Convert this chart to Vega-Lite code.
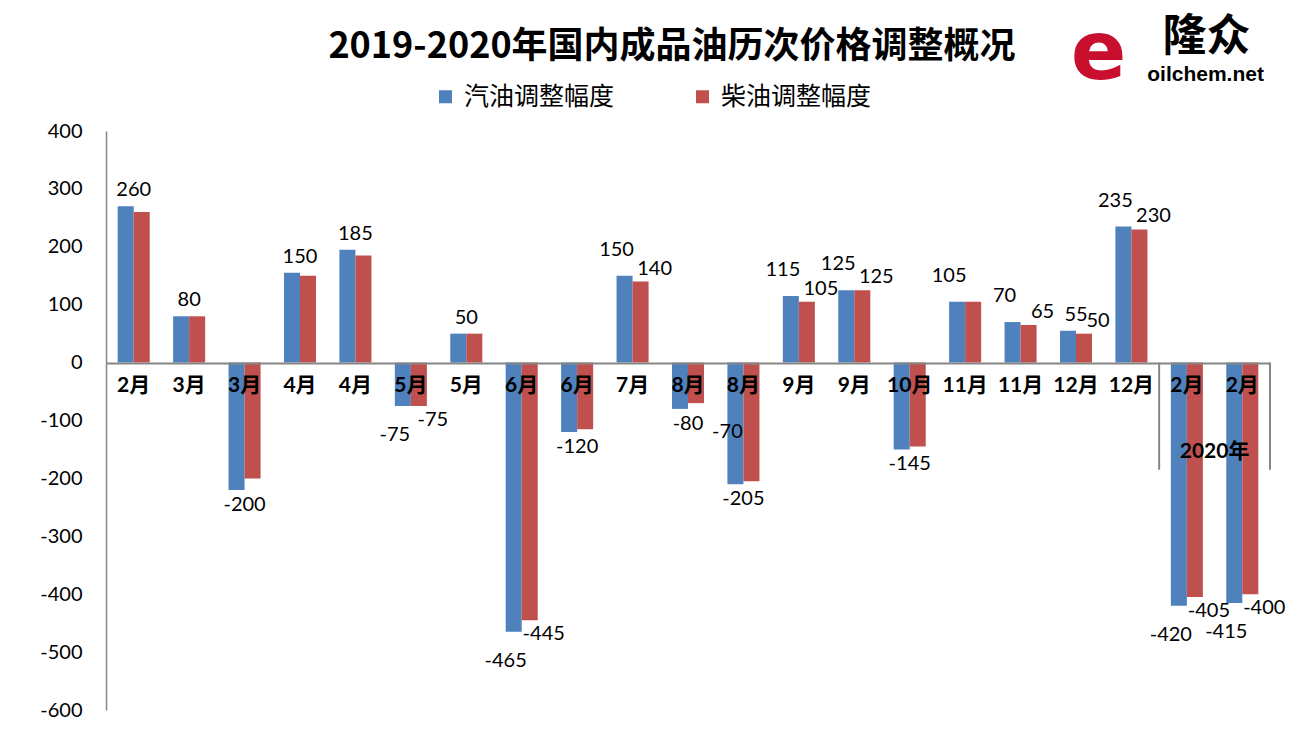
{
  "$schema": "https://vega.github.io/schema/vega-lite/v6.json",
  "width": 1164,
  "height": 579,
  "autosize": {"type": "none"},
  "padding": {"left": 106, "top": 131, "right": 37, "bottom": 21},
  "background": "white",
  "config": {"view": {"stroke": null}, "font": "Lato, Noto Sans CJK SC"},
  "title": {
    "text": "2019-2020年国内成品油历次价格调整概况",
    "font": "Noto Sans CJK SC",
    "fontSize": 36,
    "fontWeight": "bold",
    "color": "black",
    "anchor": "middle",
    "dx": -16,
    "offset": -53
  },
  "datasets": {
    "bars": [
      {"cat": "01", "s": "汽油调整幅度", "v": 270}, {"cat": "01", "s": "柴油调整幅度", "v": 260},
      {"cat": "02", "s": "汽油调整幅度", "v": 80}, {"cat": "02", "s": "柴油调整幅度", "v": 80},
      {"cat": "03", "s": "汽油调整幅度", "v": -220}, {"cat": "03", "s": "柴油调整幅度", "v": -200},
      {"cat": "04", "s": "汽油调整幅度", "v": 155}, {"cat": "04", "s": "柴油调整幅度", "v": 150},
      {"cat": "05", "s": "汽油调整幅度", "v": 195}, {"cat": "05", "s": "柴油调整幅度", "v": 185},
      {"cat": "06", "s": "汽油调整幅度", "v": -75}, {"cat": "06", "s": "柴油调整幅度", "v": -75},
      {"cat": "07", "s": "汽油调整幅度", "v": 50}, {"cat": "07", "s": "柴油调整幅度", "v": 50},
      {"cat": "08", "s": "汽油调整幅度", "v": -465}, {"cat": "08", "s": "柴油调整幅度", "v": -445},
      {"cat": "09", "s": "汽油调整幅度", "v": -120}, {"cat": "09", "s": "柴油调整幅度", "v": -115},
      {"cat": "10", "s": "汽油调整幅度", "v": 150}, {"cat": "10", "s": "柴油调整幅度", "v": 140},
      {"cat": "11", "s": "汽油调整幅度", "v": -80}, {"cat": "11", "s": "柴油调整幅度", "v": -70},
      {"cat": "12", "s": "汽油调整幅度", "v": -210}, {"cat": "12", "s": "柴油调整幅度", "v": -205},
      {"cat": "13", "s": "汽油调整幅度", "v": 115}, {"cat": "13", "s": "柴油调整幅度", "v": 105},
      {"cat": "14", "s": "汽油调整幅度", "v": 125}, {"cat": "14", "s": "柴油调整幅度", "v": 125},
      {"cat": "15", "s": "汽油调整幅度", "v": -150}, {"cat": "15", "s": "柴油调整幅度", "v": -145},
      {"cat": "16", "s": "汽油调整幅度", "v": 105}, {"cat": "16", "s": "柴油调整幅度", "v": 105},
      {"cat": "17", "s": "汽油调整幅度", "v": 70}, {"cat": "17", "s": "柴油调整幅度", "v": 65},
      {"cat": "18", "s": "汽油调整幅度", "v": 55}, {"cat": "18", "s": "柴油调整幅度", "v": 50},
      {"cat": "19", "s": "汽油调整幅度", "v": 235}, {"cat": "19", "s": "柴油调整幅度", "v": 230},
      {"cat": "20", "s": "汽油调整幅度", "v": -420}, {"cat": "20", "s": "柴油调整幅度", "v": -405},
      {"cat": "21", "s": "汽油调整幅度", "v": -415}, {"cat": "21", "s": "柴油调整幅度", "v": -400}
    ],
    "labels": [
      {"cat": "01", "s": "中", "v": 270, "t": "260"},
      {"cat": "02", "s": "中", "v": 80, "t": "80"},
      {"cat": "03", "s": "中", "v": -220, "t": "-200"},
      {"cat": "04", "s": "中", "v": 155, "t": "150"},
      {"cat": "05", "s": "中", "v": 195, "t": "185"},
      {"cat": "06", "s": "汽油调整幅度", "v": -75, "t": "-75"},
      {"cat": "06", "s": "柴油调整幅度", "v": -75, "t": "-75"},
      {"cat": "07", "s": "中", "v": 50, "t": "50"},
      {"cat": "08", "s": "汽油调整幅度", "v": -465, "t": "-465"},
      {"cat": "08", "s": "柴油调整幅度", "v": -445, "t": "-445"},
      {"cat": "09", "s": "中", "v": -120, "t": "-120"},
      {"cat": "10", "s": "汽油调整幅度", "v": 150, "t": "150"},
      {"cat": "10", "s": "柴油调整幅度", "v": 140, "t": "140"},
      {"cat": "11", "s": "中", "v": -80, "t": "-80"},
      {"cat": "12", "s": "汽油调整幅度", "v": -70, "t": "-70"},
      {"cat": "12", "s": "中", "v": -210, "t": "-205"},
      {"cat": "13", "s": "汽油调整幅度", "v": 115, "t": "115"},
      {"cat": "13", "s": "柴油调整幅度", "v": 105, "t": "105"},
      {"cat": "14", "s": "汽油调整幅度", "v": 125, "t": "125"},
      {"cat": "14", "s": "柴油调整幅度", "v": 125, "t": "125"},
      {"cat": "15", "s": "中", "v": -150, "t": "-145"},
      {"cat": "16", "s": "汽油调整幅度", "v": 105, "t": "105"},
      {"cat": "17", "s": "汽油调整幅度", "v": 70, "t": "70"},
      {"cat": "17", "s": "柴油调整幅度", "v": 65, "t": "65"},
      {"cat": "18", "s": "中", "v": 55, "t": "55"},
      {"cat": "18", "s": "柴油调整幅度", "v": 50, "t": "50"},
      {"cat": "19", "s": "汽油调整幅度", "v": 235, "t": "235"},
      {"cat": "19", "s": "柴油调整幅度", "v": 230, "t": "230"},
      {"cat": "20", "s": "汽油调整幅度", "v": -420, "t": "-420"},
      {"cat": "20", "s": "柴油调整幅度", "v": -405, "t": "-405"},
      {"cat": "21", "s": "汽油调整幅度", "v": -415, "t": "-415"},
      {"cat": "21", "s": "柴油调整幅度", "v": -400, "t": "-400"}
    ]
  },
  "layer": [
    {
      "data": {"name": "bars"},
      "mark": {"type": "bar"},
      "encoding": {
        "x": {
          "field": "cat",
          "type": "nominal",
          "scale": {"paddingInner": 0, "paddingOuter": 0},
          "axis": {
            "title": null,
            "offset": -347,
            "zindex": 1,
            "ticks": false,
            "domainColor": "#868686",
            "domainWidth": 2,
            "labelFontSize": 21,
            "labelFontWeight": "bold",
            "labelFont": "Lato, Noto Sans CJK SC",
            "labelColor": "black",
            "labelPadding": 11,
            "labelAngle": 0,
            "labelOverlap": false,
            "labelExpr": "['2月','3月','3月','4月','4月','5月','5月','6月','6月','7月','8月','8月','9月','9月','10月','11月','11月','12月','12月','2月','2月'][toNumber(datum.value)-1]"
          }
        },
        "xOffset": {
          "field": "s",
          "type": "nominal",
          "scale": {"domain": ["汽油调整幅度", "柴油调整幅度"], "paddingInner": 0, "paddingOuter": 0.73}
        },
        "y": {
          "field": "v",
          "type": "quantitative",
          "scale": {"domain": [-600, 400], "nice": false},
          "axis": {
            "title": null,
            "values": [-600, -500, -400, -300, -200, -100, 0, 100, 200, 300, 400],
            "labelExpr": "toString(datum.value)",
            "grid": false,
            "ticks": false,
            "domainColor": "#868686",
            "domainWidth": 1.5,
            "labelFontSize": 20,
            "labelColor": "black",
            "labelPadding": 24
          }
        },
        "color": {
          "field": "s",
          "type": "nominal",
          "scale": {"domain": ["汽油调整幅度", "柴油调整幅度"], "range": ["#4F81BD", "#C0504D"]},
          "legend": {
            "orient": "none",
            "legendX": 327,
            "legendY": -47,
            "direction": "horizontal",
            "title": null,
            "symbolType": "square",
            "symbolSize": 169,
            "symbolStrokeWidth": 0,
            "labelFontSize": 25,
            "labelFont": "Noto Sans CJK SC",
            "labelColor": "black",
            "labelOffset": 6,
            "columnPadding": 75
          }
        }
      }
    },
    {
      "data": {"name": "labels"},
      "transform": [{"filter": "datum.s === '中' && datum.v >= 0"}],
      "mark": {"type": "text", "baseline": "bottom", "dy": -6, "fontSize": 20, "color": "black"},
      "encoding": {
        "x": {"field": "cat", "type": "nominal"},
        "y": {"field": "v", "type": "quantitative"},
        "text": {"field": "t"}
      }
    },
    {
      "data": {"name": "labels"},
      "transform": [{"filter": "datum.s === '中' && datum.v < 0"}],
      "mark": {"type": "text", "baseline": "top", "dy": 5, "fontSize": 20, "color": "black"},
      "encoding": {
        "x": {"field": "cat", "type": "nominal"},
        "y": {"field": "v", "type": "quantitative"},
        "text": {"field": "t"}
      }
    },
    {
      "data": {"name": "labels"},
      "transform": [{"filter": "datum.s === '汽油调整幅度' && datum.v >= 0"}],
      "mark": {"type": "text", "baseline": "bottom", "dx": -8, "dy": -16, "fontSize": 20, "color": "black"},
      "encoding": {
        "x": {"field": "cat", "type": "nominal"},
        "xOffset": {"field": "s", "type": "nominal"},
        "y": {"field": "v", "type": "quantitative"},
        "text": {"field": "t"}
      }
    },
    {
      "data": {"name": "labels"},
      "transform": [{"filter": "datum.s === '柴油调整幅度' && datum.v >= 0"}],
      "mark": {"type": "text", "baseline": "bottom", "dx": 14, "dy": -3, "fontSize": 20, "color": "black"},
      "encoding": {
        "x": {"field": "cat", "type": "nominal"},
        "xOffset": {"field": "s", "type": "nominal"},
        "y": {"field": "v", "type": "quantitative"},
        "text": {"field": "t"}
      }
    },
    {
      "data": {"name": "labels"},
      "transform": [{"filter": "datum.s === '汽油调整幅度' && datum.v < 0"}],
      "mark": {"type": "text", "baseline": "top", "dx": -8, "dy": 19, "fontSize": 20, "color": "black"},
      "encoding": {
        "x": {"field": "cat", "type": "nominal"},
        "xOffset": {"field": "s", "type": "nominal"},
        "y": {"field": "v", "type": "quantitative"},
        "text": {"field": "t"}
      }
    },
    {
      "data": {"name": "labels"},
      "transform": [{"filter": "datum.s === '柴油调整幅度' && datum.v < 0"}],
      "mark": {"type": "text", "baseline": "top", "dx": 14, "dy": 4, "fontSize": 20, "color": "black"},
      "encoding": {
        "x": {"field": "cat", "type": "nominal"},
        "xOffset": {"field": "s", "type": "nominal"},
        "y": {"field": "v", "type": "quantitative"},
        "text": {"field": "t"}
      }
    },
    {
      "data": {"values": [{}]},
      "mark": {"type": "rule", "color": "#868686", "strokeWidth": 2},
      "encoding": {
        "x": {"datum": "20", "type": "nominal", "bandPosition": 0},
        "y": {"datum": 0, "type": "quantitative"},
        "y2": {"datum": -185}
      }
    },
    {
      "data": {"values": [{}]},
      "mark": {"type": "rule", "color": "#868686", "strokeWidth": 2},
      "encoding": {
        "x": {"datum": "21", "type": "nominal", "bandPosition": 1},
        "y": {"datum": 0, "type": "quantitative"},
        "y2": {"datum": -185}
      }
    },
    {
      "data": {"values": [{}]},
      "mark": {"type": "text", "fontSize": 21, "fontWeight": "bold", "color": "black", "baseline": "middle"},
      "encoding": {
        "x": {"datum": "20", "type": "nominal", "bandPosition": 1},
        "y": {"datum": -155, "type": "quantitative"},
        "text": {"value": "2020年"}
      }
    },
    {
      "data": {"values": [{}]},
      "mark": {"type": "text", "fontSize": 44, "fontWeight": "bold", "font": "Noto Sans CJK SC", "color": "black", "baseline": "middle", "dx": -8},
      "encoding": {
        "x": {"datum": "20", "type": "nominal", "bandPosition": 1},
        "y": {"datum": 560, "type": "quantitative"},
        "text": {"value": "隆众"}
      }
    },
    {
      "data": {"values": [{}]},
      "mark": {"type": "text", "fontSize": 21, "fontWeight": "bold", "font": "Liberation Sans", "color": "black", "baseline": "middle", "dx": -9},
      "encoding": {
        "x": {"datum": "20", "type": "nominal", "bandPosition": 1},
        "y": {"datum": 496, "type": "quantitative"},
        "text": {"value": "oilchem.net"}
      }
    },
    {
      "data": {"values": [{}]},
      "mark": {"type": "text", "fontSize": 82, "fontWeight": "bold", "font": "DejaVu Sans", "color": "#C8102E", "baseline": "middle", "dx": -116},
      "encoding": {
        "x": {"datum": "20", "type": "nominal", "bandPosition": 1},
        "y": {"datum": 533, "type": "quantitative"},
        "text": {"value": "e"}
      }
    }
  ]
}
